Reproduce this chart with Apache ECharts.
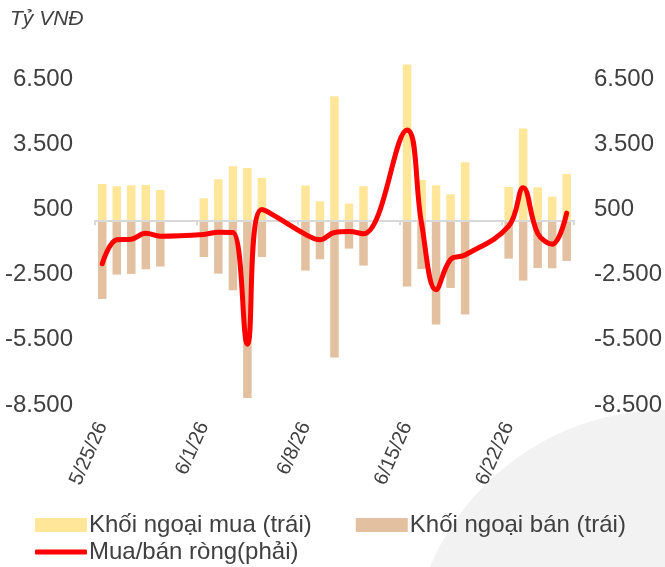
<!DOCTYPE html>
<html>
<head>
<meta charset="utf-8">
<script src="https://cdn.jsdelivr.net/npm/echarts@6/dist/echarts.min.js"></script>
<style>
  html, body { margin: 0; padding: 0; background: #fff; }
  #chart { width: 665px; height: 567px; }
</style>
</head>
<body>
<div id="chart"></div>
<script>
// ngày (trục ngày, cuối tuần không có dữ liệu)
const dates = [
  '5/25/26', '5/26/26', '5/27/26', '5/28/26', '5/29/26', '5/30/26', '5/31/26',
  '6/1/26', '6/2/26', '6/3/26', '6/4/26', '6/5/26', '6/6/26', '6/7/26',
  '6/8/26', '6/9/26', '6/10/26', '6/11/26', '6/12/26', '6/13/26', '6/14/26',
  '6/15/26', '6/16/26', '6/17/26', '6/18/26', '6/19/26', '6/20/26', '6/21/26',
  '6/22/26', '6/23/26', '6/24/26', '6/25/26', '6/26/26'
];

// Khối ngoại mua (trái)
const buyValues = [
  1670, 1565, 1610, 1625, 1395, null, null,
  1010, 1885, 2485, 2405, 1945, null, null,
  1600, 875, 5710, 770, 1565, null, null,
  7165, 1855, 1610, 1195, 2670, null, null,
  1535, 4220, 1520, 1090, 2130
];

// Khối ngoại bán (trái)
const sellValues = [
  -3620, -2500, -2470, -2255, -2130, null, null,
  -1690, -2455, -3220, -8175, -1690, null, null,
  -2315, -1795, -6310, -1305, -2085, null, null,
  -3050, -2240, -4800, -3115, -4340, null, null,
  -1765, -2775, -2195, -2210, -1870
];

// Mua/bán ròng (phải)
const netValues = [
  -2000, -900, -870, -600, -730, null, null,
  -650, -550, -560, -5700, 500, null, null,
  -650, -900, -560, -520, -620, null, null,
  4150, -150, -3200, -1800, -1600, null, null,
  -270, 1500, -600, -1100, 330
];

const FONT = '"Liberation Sans", Arial, sans-serif';
const TEXT = '#404040';

function fmt(v) {
  return String(v).replace(/\B(?=(\d{3})+(?!\d))/g, '.');
}

const myChart = echarts.init(document.getElementById('chart'));

const yAxisBase = {
  type: 'value',
  min: -8500,
  max: 6500,
  interval: 3000,
  splitLine: { show: false },
  axisLine: { show: false },
  axisTick: { show: false },
  axisLabel: {
    color: TEXT,
    fontSize: 24,
    fontFamily: FONT,
    formatter: fmt
  }
};

const option = {
  backgroundColor: '#ffffff',
  animation: false,
  textStyle: { fontFamily: FONT },
  graphic: [{
    type: 'circle',
    shape: { cx: 666, cy: 666, r: 256 },
    style: { fill: '#f2f2f2' },
    silent: true,
    z: -10
  }],
  title: {
    text: 'Tỷ VNĐ',
    left: 5,
    top: 4,
    textStyle: {
      fontStyle: 'italic',
      fontWeight: 'normal',
      fontSize: 21,
      color: TEXT,
      fontFamily: FONT
    }
  },
  legend: [{
    data: ['Khối ngoại mua (trái)', 'Khối ngoại bán (trái)'],
    left: 30,
    top: 508,
    icon: 'rect',
    itemWidth: 52,
    itemHeight: 14,
    itemGap: 44,
    textStyle: { color: TEXT, fontSize: 24, fontFamily: FONT, padding: [0, 0, 0, -3] }
  }, {
    data: [{ name: 'Mua/bán ròng(phải)', icon: 'roundRect' }],
    left: 30,
    top: 535,
    itemWidth: 52,
    itemHeight: 5,
    textStyle: { color: TEXT, fontSize: 24, fontFamily: FONT, padding: [0, 0, 0, -3] }
  }],
  grid: {
    left: 95,
    right: 91,
    top: 79,
    bottom: 162
  },
  xAxis: [{
    // trục ở mức 0
    type: 'category',
    data: dates,
    boundaryGap: true,
    z: 3,
    axisLine: { onZero: true, lineStyle: { color: '#d9d9d9', width: 2 } },
    axisTick: { show: true, interval: 6, length: 5, lineStyle: { color: '#d9d9d9', width: 2 } },
    axisLabel: { show: false },
    splitLine: { show: false }
  }, {
    // nhãn ngày ở dưới cùng
    type: 'category',
    data: dates,
    position: 'bottom',
    boundaryGap: true,
    axisLine: { show: false, onZero: false },
    axisTick: { show: false },
    axisLabel: {
      interval: 6,
      rotate: 66,
      margin: 18,
      color: TEXT,
      fontSize: 20,
      fontFamily: FONT
    },
    splitLine: { show: false }
  }],
  yAxis: [
    Object.assign({}, yAxisBase, { position: 'left', axisLabel: Object.assign({}, yAxisBase.axisLabel, { margin: 22 }) }),
    Object.assign({}, yAxisBase, { position: 'right', axisLabel: Object.assign({}, yAxisBase.axisLabel, { margin: 20 }) })
  ],
  series: [{
    name: 'Khối ngoại mua (trái)',
    type: 'bar',
    xAxisIndex: 0,
    yAxisIndex: 0,
    stack: 'flow',
    clip: false,
    barWidth: 8.5,
    itemStyle: { color: '#ffe699' },
    data: buyValues
  }, {
    name: 'Khối ngoại bán (trái)',
    type: 'bar',
    xAxisIndex: 0,
    yAxisIndex: 0,
    stack: 'flow',
    clip: false,
    barWidth: 8.5,
    itemStyle: { color: '#e3c1a0' },
    data: sellValues
  }, {
    name: 'Mua/bán ròng(phải)',
    type: 'line',
    xAxisIndex: 0,
    yAxisIndex: 1,
    z: 4,
    smooth: 0.4,
    connectNulls: true,
    symbol: 'none',
    lineStyle: { color: '#ff0000', width: 5, cap: 'round' },
    itemStyle: { color: '#ff0000' },
    data: netValues
  }]
};

myChart.setOption(option);
window.addEventListener('resize', () => myChart.resize());
</script>
</body>
</html>
